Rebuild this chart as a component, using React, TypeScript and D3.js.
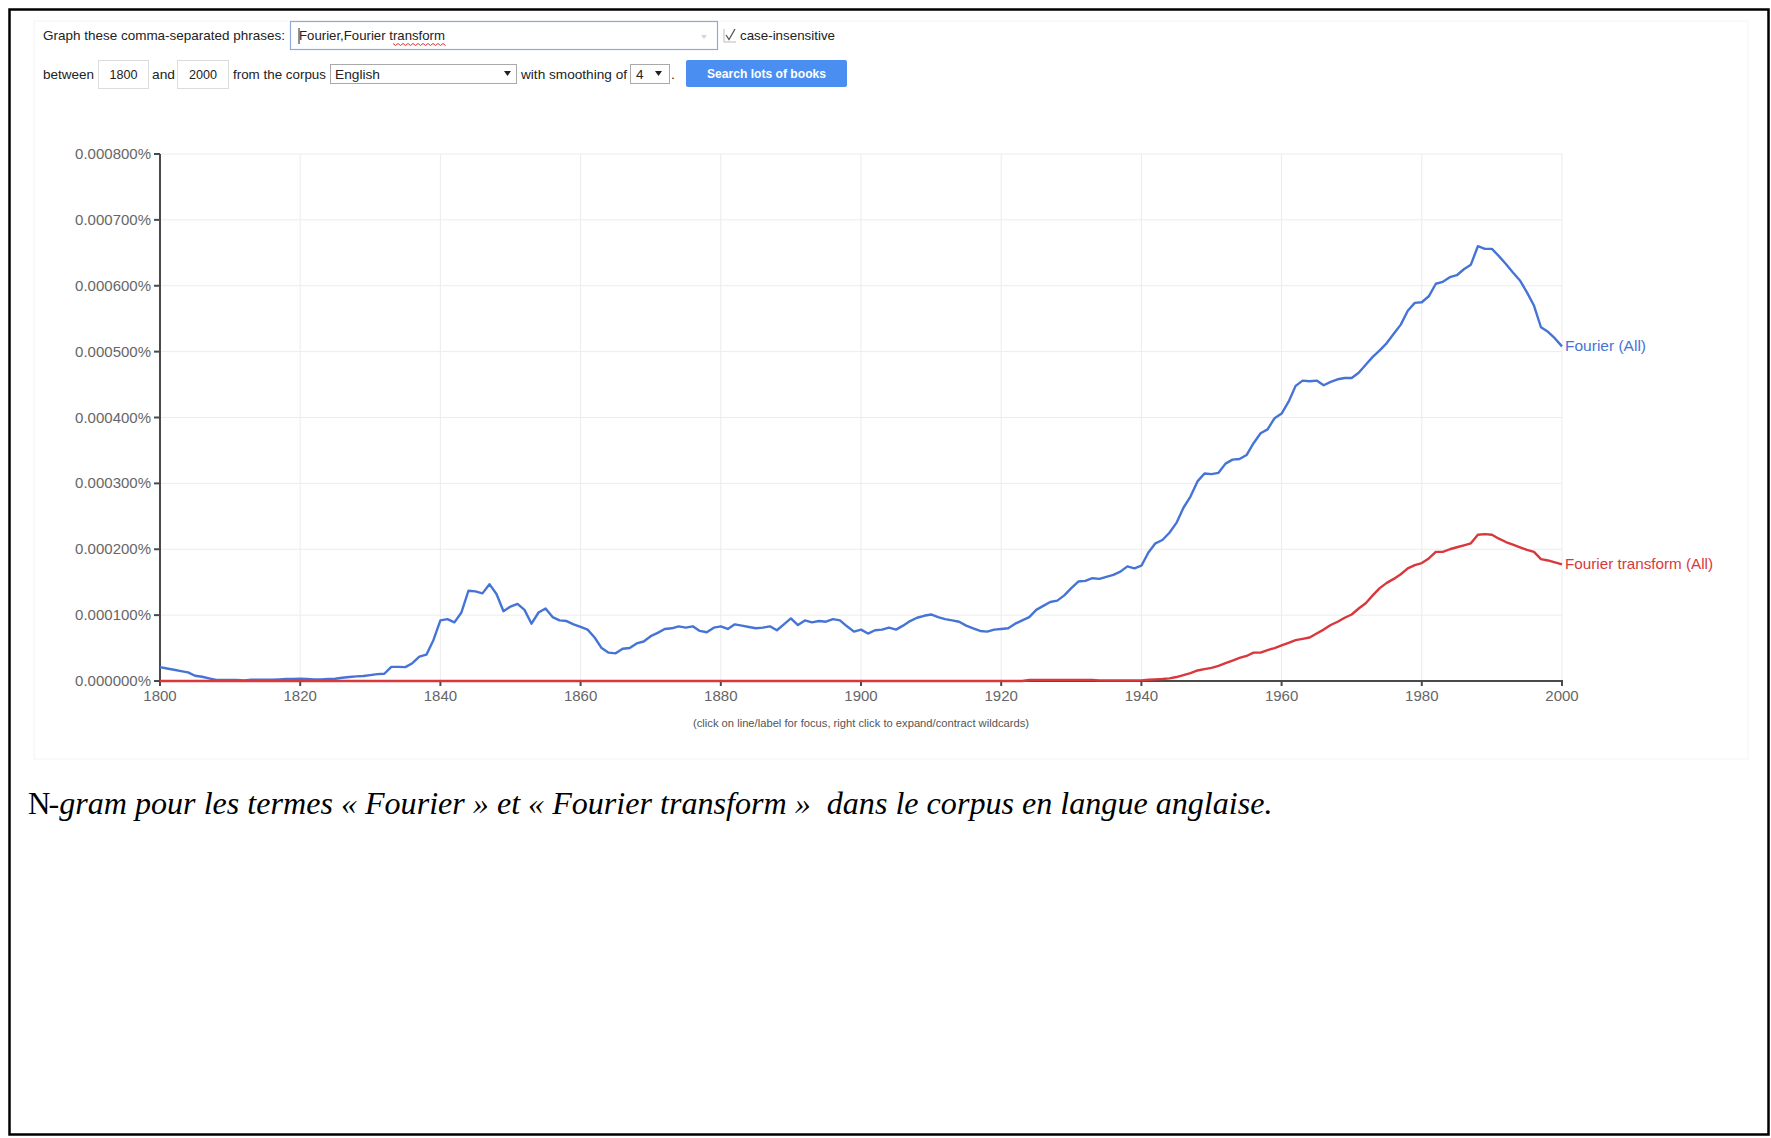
import React from "react";
import * as d3 from "d3";

// ---------- data (values in units of 0.000001 %) ----------
const years: number[] = d3.range(1800, 2001);

const fourierAll: number[] = [
  21, 19, 17, 15, 13, 8, 6.5, 4, 1.5, 1.5,
  1.5, 1.5, 1, 2, 2, 2, 2, 2.5, 3, 3,
  3.5, 3, 2.5, 2.5, 3, 3.5, 5, 6, 7, 7.5,
  9, 10.5, 11, 21.5, 21.5, 21, 27, 37, 40, 62,
  92, 94, 89, 104, 137, 136, 133, 147, 132, 106,
  113, 117, 108, 87, 104, 110, 97, 92, 91, 86,
  82, 78, 66, 50, 43, 42, 49, 50, 57, 60,
  68, 73, 79, 80, 83, 81, 83, 76, 74, 81,
  83, 79, 86, 84, 82, 80, 81, 83, 77, 86,
  95, 85, 92, 89, 91, 90, 94, 92, 83, 75,
  78, 72, 77, 78, 81, 78, 84, 91, 96, 99,
  101, 97, 94, 92, 90, 84, 80, 76, 75, 78,
  79, 80, 87, 92, 97, 108, 114, 120, 122, 130,
  141, 151, 152, 156, 155, 158, 161, 166, 174, 171,
  175, 195, 209, 214, 225, 240, 263, 280, 303, 315,
  314, 316, 330, 336, 337, 343, 361, 376, 382, 399,
  406, 424, 448, 456, 455, 456, 449, 454, 458, 460,
  460, 468, 480, 492, 502, 513, 527, 541, 562, 574,
  575, 584, 603, 606, 613, 616, 625, 632, 660, 656,
  656, 645, 633, 620, 608, 590, 570, 537, 530, 520,
  508,
];

const fourierTransformAll: number[] = [
  0, 0, 0, 0, 0, 0, 0, 0, 0, 0,
  0, 0, 0, 0, 0, 0, 0, 0, 0, 0,
  0, 0, 0, 0, 0, 0, 0, 0, 0, 0,
  0, 0, 0, 0, 0, 0, 0, 0, 0, 0,
  0, 0, 0, 0, 0, 0, 0, 0, 0, 0,
  0, 0, 0, 0, 0, 0, 0, 0, 0, 0,
  0, 0, 0, 0, 0, 0, 0, 0, 0, 0,
  0, 0, 0, 0, 0, 0, 0, 0, 0, 0,
  0, 0, 0, 0, 0, 0, 0, 0, 0, 0,
  0, 0, 0, 0, 0, 0, 0, 0, 0, 0,
  0, 0, 0, 0, 0, 0, 0, 0, 0, 0,
  0, 0, 0, 0, 0, 0, 0, 0, 0, 0,
  0, 0, 0, 0, 1.5, 1.5, 1.5, 1.5, 1.5, 1.5,
  1.5, 1.5, 1.5, 1.5, 1, 1, 1, 1, 1, 1,
  1, 2, 2.5, 3, 4, 6, 9, 12, 16, 18,
  20, 23, 27, 31, 35, 38, 43, 43, 47, 50,
  54, 58, 62, 64, 66, 72, 78, 85, 90, 96,
  101, 110, 118, 130, 141, 149, 155, 162, 171, 176,
  179, 186, 196, 196, 200, 203, 206, 209, 222, 223,
  222, 216, 211, 207, 203, 199, 196, 185, 183, 180,
  177,
];

const seriesNames: string[] = ["Fourier (All)", "Fourier transform (All)"];
const xTicks: number[] = [1800, 1820, 1840, 1860, 1880, 1900, 1920, 1940, 1960, 1980, 2000];
const yTicks: number[] = [0, 100, 200, 300, 400, 500, 600, 700, 800];

const queryText = "Fourier,Fourier transform";
const startYear = "1800";
const endYear = "2000";
const corpus = "English";
const smoothing = "4";
const footnote = "(click on line/label for focus, right click to expand/contract wildcards)";
const captionLead = "N";
const captionRest = "-gram pour les termes « Fourier » et « Fourier transform »  dans le corpus en langue anglaise.";

// ---------- styling ----------
const W = 1771;
const H = 1138;
const BLUE = "#4674d6";
const RED = "#d8383c";
const SANS = "'Liberation Sans', Arial, sans-serif";
const SERIF = "'Liberation Serif', 'Times New Roman', serif";

export default function App() {
  const x = d3.scaleLinear().domain([1800, 2000]).range([160, 1562]);
  const y = d3.scaleLinear().domain([0, 800]).range([681, 154]);
  const fmt = (d: number) => (d / 1e6).toFixed(6) + "%";

  const line = d3
    .line<number>()
    .x((_, i) => x(years[i]))
    .y((d) => y(d));

  const series = [
    { name: seriesNames[0], values: fourierAll, color: BLUE, labelWidth: 81 },
    { name: seriesNames[1], values: fourierTransformAll, color: RED, labelWidth: 148 },
  ];

  const squigglePts = d3.range(393, 446, 2.5).map((sx, i) => [sx, i % 2 === 0 ? 43.5 : 45.5]);

  const label = { fontFamily: SANS, fontSize: 13.5, fill: "#222" } as const;

  return (
    <svg
      width={W}
      height={H}
      viewBox={`0 0 ${W} ${H}`}
      style={{ position: "absolute", left: 0, top: 0, background: "#fff" }}
    >
      <rect x={0} y={0} width={W} height={H} fill="#fff" />
      {/* faint panel */}
      <rect x={34} y={21} width={1714} height={738} fill="none" stroke="#f4f4f4" strokeWidth={1} />

      {/* ---------- form row 1 ---------- */}
      <text x={43} y={39.5} {...label} textLength={242} lengthAdjust="spacingAndGlyphs">
        Graph these comma-separated phrases:
      </text>
      <rect x={290.5} y={21.5} width={427} height={28} fill="#fff" stroke="#8faad8" strokeWidth={1.2} />
      <line x1={299} y1={28} x2={299} y2={44} stroke="#222" strokeWidth={1} />
      <text x={299} y={40} {...label} textLength={146} lengthAdjust="spacingAndGlyphs">
        {queryText}
      </text>
      <polyline
        points={squigglePts.map((p) => p.join(",")).join(" ")}
        fill="none"
        stroke="#e03030"
        strokeWidth={1}
      />
      <path d="M701,35 L707,35 L704,39 Z" fill="#d6d6d6" />
      {/* checkbox */}
      <path d="M724,29 L724,42 L736,42" fill="none" stroke="#bbb" strokeWidth={1} />
      <path d="M726,35 L729,39.5 L735,29" fill="none" stroke="#555" strokeWidth={1.3} />
      <text x={740} y={39.5} {...label} textLength={95} lengthAdjust="spacingAndGlyphs">
        case-insensitive
      </text>

      {/* ---------- form row 2 ---------- */}
      <text x={43} y={78.5} {...label} textLength={51} lengthAdjust="spacingAndGlyphs">
        between
      </text>
      <rect x={98.5} y={60.5} width={50} height={28} fill="#fff" stroke="#dcdcdc" strokeWidth={1} />
      <text x={123.5} y={78.5} {...label} textAnchor="middle" textLength={28} lengthAdjust="spacingAndGlyphs">
        {startYear}
      </text>
      <text x={152} y={78.5} {...label} textLength={23} lengthAdjust="spacingAndGlyphs">
        and
      </text>
      <rect x={177.5} y={60.5} width={51} height={28} fill="#fff" stroke="#dcdcdc" strokeWidth={1} />
      <text x={203} y={78.5} {...label} textAnchor="middle" textLength={28} lengthAdjust="spacingAndGlyphs">
        {endYear}
      </text>
      <text x={233} y={78.5} {...label} textLength={93} lengthAdjust="spacingAndGlyphs">
        from the corpus
      </text>
      <rect x={330.5} y={64.5} width={186} height={19} fill="#fff" stroke="#a9a9a9" strokeWidth={1} />
      <text x={335} y={78.5} {...label} textLength={45} lengthAdjust="spacingAndGlyphs">
        {corpus}
      </text>
      <path d="M504,71 L511,71 L507.5,76 Z" fill="#222" />
      <text x={521} y={78.5} {...label} textLength={106} lengthAdjust="spacingAndGlyphs">
        with smoothing of
      </text>
      <rect x={630.5} y={64.5} width={39} height={19} fill="#fff" stroke="#a9a9a9" strokeWidth={1} />
      <text x={636} y={78.5} {...label}>
        {smoothing}
      </text>
      <path d="M655,71 L662,71 L658.5,76 Z" fill="#222" />
      <text x={671} y={78.5} {...label}>
        .
      </text>
      <rect x={686} y={60} width={161} height={27} rx={2} fill="#4a8ef2" />
      <text
        x={766.5}
        y={78}
        fontFamily={SANS}
        fontSize={13}
        fontWeight="bold"
        fill="#fff"
        textAnchor="middle"
        textLength={119}
        lengthAdjust="spacingAndGlyphs"
      >
        Search lots of books
      </text>

      {/* ---------- chart grid ---------- */}
      <g>
        {yTicks.map((t) => (
          <line key={"gy" + t} x1={x(1800)} x2={x(2000)} y1={y(t)} y2={y(t)} stroke="#ececec" strokeWidth={1} />
        ))}
        {xTicks.map((t) => (
          <line key={"gx" + t} x1={x(t)} x2={x(t)} y1={y(800)} y2={y(0)} stroke="#ececec" strokeWidth={1} />
        ))}
      </g>

      {/* axes */}
      <g>
        <line x1={x(1800)} x2={x(1800)} y1={y(800)} y2={y(0) + 1} stroke="#4a4a4a" strokeWidth={2} />
        <line x1={x(1800) - 1} x2={x(2000) + 1} y1={y(0)} y2={y(0)} stroke="#4a4a4a" strokeWidth={2} />
        {yTicks.map((t) => (
          <g key={"ty" + t}>
            <line x1={x(1800) - 6} x2={x(1800)} y1={y(t)} y2={y(t)} stroke="#4a4a4a" strokeWidth={2} />
            <text
              x={x(1800) - 9}
              y={y(t) + 5}
              textAnchor="end"
              fontFamily={SANS}
              fontSize={15}
              fill="#666"
            >
              {fmt(t)}
            </text>
          </g>
        ))}
        {xTicks.map((t) => (
          <g key={"tx" + t}>
            <line x1={x(t)} x2={x(t)} y1={y(0)} y2={y(0) + 5} stroke="#4a4a4a" strokeWidth={2} />
            <text x={x(t)} y={y(0) + 20} textAnchor="middle" fontFamily={SANS} fontSize={15} fill="#666">
              {t}
            </text>
          </g>
        ))}
      </g>

      {/* series */}
      <g>
        {series.map((s) => (
          <path
            key={s.name}
            d={line(s.values) || ""}
            fill="none"
            stroke={s.color}
            strokeWidth={2.4}
            strokeLinejoin="round"
          />
        ))}
        {series.map((s) => (
          <text
            key={"l" + s.name}
            x={x(2000) + 3}
            y={y(s.values[s.values.length - 1]) + 5}
            fontFamily={SANS}
            fontSize={15}
            fill={s.color}
            textLength={s.labelWidth}
            lengthAdjust="spacingAndGlyphs"
          >
            {s.name}
          </text>
        ))}
      </g>

      <text
        x={861}
        y={727}
        textAnchor="middle"
        fontFamily={SANS}
        fontSize={11}
        fill="#555"
        textLength={336}
        lengthAdjust="spacingAndGlyphs"
      >
        {footnote}
      </text>

      {/* caption */}
      <text x={28} y={814} fontFamily={SERIF} fontSize={31} fill="#000">
        {captionLead}
      </text>
      <text
        x={48.5}
        y={814}
        fontFamily={SERIF}
        fontSize={31}
        fontStyle="italic"
        fill="#000"
        textLength={1224}
        lengthAdjust="spacingAndGlyphs"
        style={{ whiteSpace: "pre" }}
      >
        {captionRest}
      </text>

      {/* outer border */}
      <rect x={9.5} y={9.5} width={1759} height={1125} fill="none" stroke="#000" strokeWidth={2.5} />
    </svg>
  );
}
